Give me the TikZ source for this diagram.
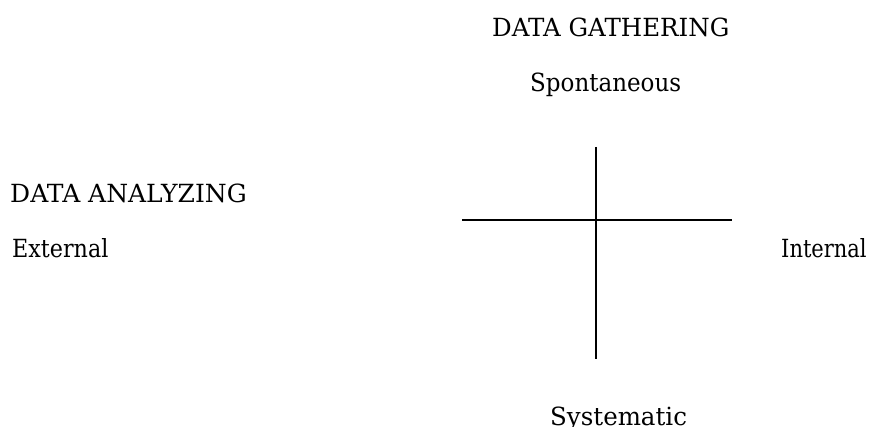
\documentclass[tikz,border=0pt]{standalone}
\usepackage{graphicx}
\usepackage{fontspec}
\setmainfont{DejaVu Serif}
\begin{document}
\begin{tikzpicture}[x=1pt,y=-1pt,
  lbl/.style={inner sep=0pt,font=\fontsize{25}{28}\selectfont,anchor=base west},
  axis/.style={line width=1.8pt,black}]
\useasboundingbox (0,0) rectangle (869,427);
\node[lbl] (gather) at (492,37) {\scalebox{0.98}[1]{DATA GATHERING}};
\node[lbl] (spont) at (530,92) {\scalebox{0.92}[1]{Spontaneous}};
\node[lbl] (analyz) at (10,203) {\scalebox{1.0}[1]{DATA ANALYZING}};
\node[lbl] (ext) at (12,258) {\scalebox{0.89}[1]{External}};
\node[lbl] (int) at (781,258) {\scalebox{0.84}[1]{Internal}};
\node[lbl] (sys) at (550,425) {\scalebox{0.98}[1]{Systematic}};
\coordinate (top) at (596,147);
\coordinate (bot) at (596,359);
\coordinate (left) at (462,220);
\coordinate (right) at (732,220);
\draw[axis] (top) -- (bot);
\draw[axis] (left) -- (right);
\end{tikzpicture}
\end{document}
